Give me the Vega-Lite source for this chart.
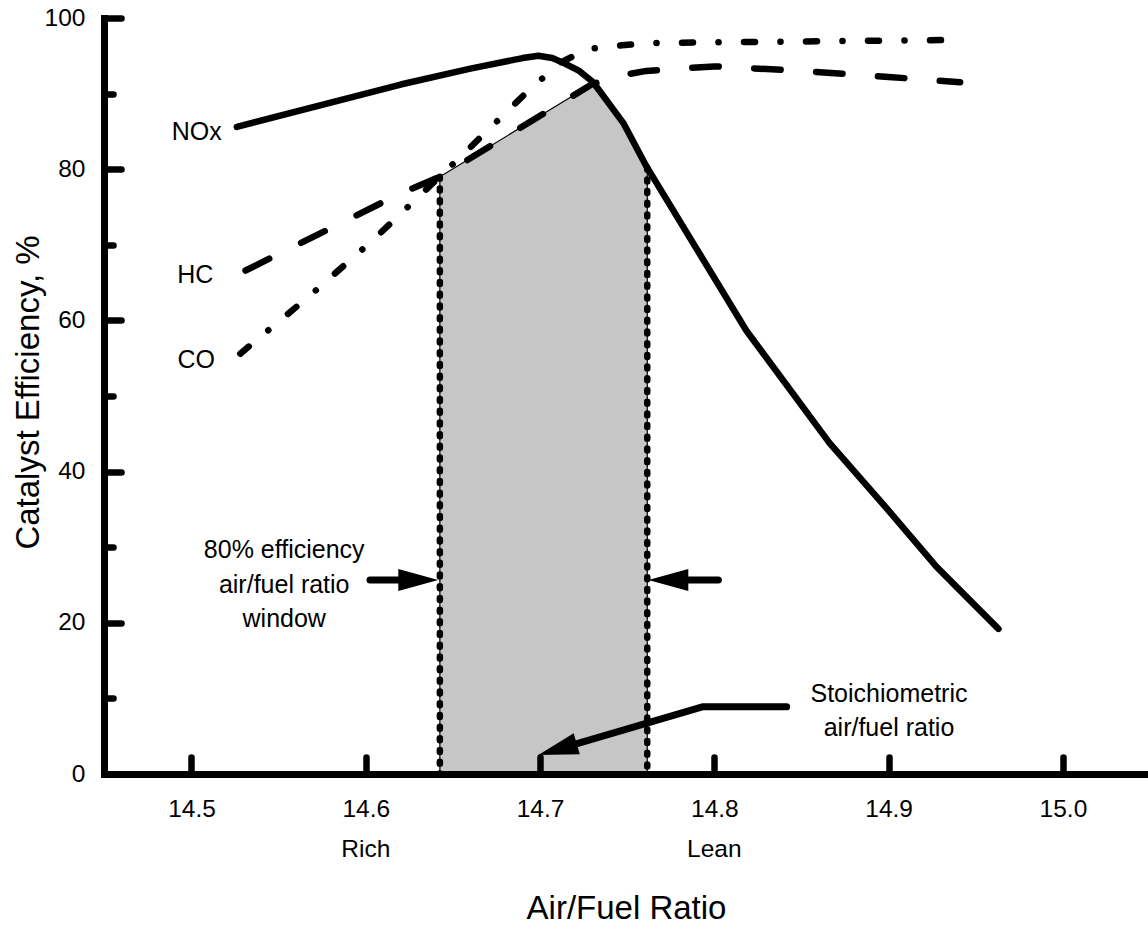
{
  "$schema": "https://vega.github.io/schema/vega-lite/v6.json",
  "width": 1044,
  "height": 756,
  "autosize": {"type": "none"},
  "padding": {"left": 104, "top": 18, "right": 0, "bottom": 154},
  "background": "white",
  "config": {"view": {"stroke": null}, "font": "Liberation Sans"},
  "datasets": {
    "curves": [
      {"gas": "NOx", "x": 14.526, "y": 85.6},
      {"gas": "NOx", "x": 14.62, "y": 91.2},
      {"gas": "NOx", "x": 14.66, "y": 93.3},
      {"gas": "NOx", "x": 14.69, "y": 94.7},
      {"gas": "NOx", "x": 14.699, "y": 95.0},
      {"gas": "NOx", "x": 14.707, "y": 94.7},
      {"gas": "NOx", "x": 14.714, "y": 94.0},
      {"gas": "NOx", "x": 14.7225, "y": 93.0},
      {"gas": "NOx", "x": 14.7305, "y": 91.5},
      {"gas": "NOx", "x": 14.7478, "y": 86.1},
      {"gas": "NOx", "x": 14.7612, "y": 80.3},
      {"gas": "NOx", "x": 14.8185, "y": 58.6},
      {"gas": "NOx", "x": 14.866, "y": 43.8},
      {"gas": "NOx", "x": 14.899, "y": 35.1},
      {"gas": "NOx", "x": 14.9275, "y": 27.4},
      {"gas": "NOx", "x": 14.963, "y": 19.2},
      {"gas": "HC", "x": 14.531, "y": 66.6},
      {"gas": "HC", "x": 14.62, "y": 76.8},
      {"gas": "HC", "x": 14.6425, "y": 79.0},
      {"gas": "HC", "x": 14.7295, "y": 91.2},
      {"gas": "HC", "x": 14.744, "y": 92.3},
      {"gas": "HC", "x": 14.761, "y": 93.0},
      {"gas": "HC", "x": 14.8, "y": 93.6},
      {"gas": "HC", "x": 14.85, "y": 93.0},
      {"gas": "HC", "x": 14.9, "y": 92.2},
      {"gas": "HC", "x": 14.941, "y": 91.5},
      {"gas": "CO", "x": 14.528, "y": 55.6},
      {"gas": "CO", "x": 14.568, "y": 63.3},
      {"gas": "CO", "x": 14.604, "y": 70.6},
      {"gas": "CO", "x": 14.656, "y": 82.0},
      {"gas": "CO", "x": 14.692, "y": 90.1},
      {"gas": "CO", "x": 14.711, "y": 94.0},
      {"gas": "CO", "x": 14.727, "y": 95.9},
      {"gas": "CO", "x": 14.747, "y": 96.4},
      {"gas": "CO", "x": 14.764, "y": 96.7},
      {"gas": "CO", "x": 14.85, "y": 96.9},
      {"gas": "CO", "x": 14.942, "y": 97.1}
    ],
    "window": [
      {"x": 14.6425, "y": 79.0},
      {"x": 14.7295, "y": 91.2},
      {"x": 14.7478, "y": 86.1},
      {"x": 14.7615, "y": 80.2}
    ],
    "edges": [
      {"x": 14.6425, "y": 79.0},
      {"x": 14.7615, "y": 80.2}
    ],
    "frame": [{"y": 100}],
    "shafts": [
      {"arrow": "left", "x": 14.6024, "y": 25.66},
      {"arrow": "left", "x": 14.63, "y": 25.66},
      {"arrow": "right", "x": 14.7736, "y": 25.66},
      {"arrow": "right", "x": 14.8023, "y": 25.66},
      {"arrow": "stoich", "x": 14.70998, "y": 3.25},
      {"arrow": "stoich", "x": 14.7936, "y": 8.9},
      {"arrow": "stoich", "x": 14.8415, "y": 8.9}
    ],
    "heads": [
      {"arrow": "left", "x": 14.6416, "y": 25.66},
      {"arrow": "right", "x": 14.7621, "y": 25.66},
      {"arrow": "stoich", "x": 14.699, "y": 2.51}
    ],
    "gasLabels": [
      {"x": 14.5173, "y": 83.86, "text": "NOx"},
      {"x": 14.5125, "y": 64.9, "text": "HC"},
      {"x": 14.5135, "y": 53.7, "text": "CO"}
    ],
    "notes": [
      {"x": 14.5532, "y": 28.53, "text": "80% efficiency\nair/fuel ratio\nwindow"},
      {"x": 14.9002, "y": 9.56, "text": "Stoichiometric\nair/fuel ratio"}
    ],
    "sides": [
      {"x": 14.6, "y": -10.98, "text": "Rich"},
      {"x": 14.8, "y": -10.98, "text": "Lean"}
    ]
  },
  "encoding": {
    "x": {
      "field": "x",
      "type": "quantitative",
      "scale": {"domain": [14.4498, 15.0488], "nice": false, "zero": false},
      "axis": {
        "title": "Air/Fuel Ratio",
        "values": [14.5, 14.6, 14.7, 14.8, 14.9, 15.0],
        "format": ".1f",
        "grid": false,
        "zindex": 1,
        "domain": true,
        "domainColor": "black",
        "domainWidth": 7,
        "domainCap": "square",
        "ticks": true,
        "tickSize": -17,
        "tickWidth": 6.5,
        "tickColor": "black",
        "tickCap": "round",
        "labelFont": "Liberation Sans",
        "labelFontSize": 24.5,
        "labelColor": "black",
        "labelPadding": 40,
        "labelFlush": false,
        "labelOverlap": false,
        "titleFont": "Liberation Sans",
        "titleFontSize": 33,
        "titleFontWeight": "normal",
        "titleColor": "black",
        "titleX": 522,
        "titleY": 144,
        "titleAlign": "center",
        "titleBaseline": "alphabetic"
      }
    },
    "y": {
      "field": "y",
      "type": "quantitative",
      "scale": {"domain": [0, 100], "nice": false},
      "axis": {
        "title": "Catalyst Efficiency, %",
        "values": [0, 10, 20, 30, 40, 50, 60, 70, 80, 90, 100],
        "labelExpr": "datum.value % 20 === 0 ? datum.label : ''",
        "grid": false,
        "zindex": 1,
        "domain": true,
        "domainColor": "black",
        "domainWidth": 7,
        "domainCap": "square",
        "ticks": true,
        "tickSize": {"condition": {"test": "datum.value % 20 === 0", "value": -17}, "value": -9},
        "tickWidth": 6.5,
        "tickColor": "black",
        "tickCap": "round",
        "labelFont": "Liberation Sans",
        "labelFontSize": 24.5,
        "labelColor": "black",
        "labelPadding": 36,
        "labelFlush": false,
        "labelOverlap": false,
        "titleFont": "Liberation Sans",
        "titleFontSize": 33,
        "titleFontWeight": "normal",
        "titleColor": "black",
        "titleAngle": -90,
        "titleX": -66,
        "titleY": 374,
        "titleAlign": "center",
        "titleBaseline": "alphabetic"
      }
    }
  },
  "layer": [
    {
      "data": {"name": "window"},
      "mark": {"type": "area", "color": "#c6c6c6", "opacity": 1},
      "encoding": {"y2": {"datum": 0}}
    },
    {
      "data": {"name": "window"},
      "mark": {"type": "line", "color": "black", "strokeWidth": 1.2}
    },
    {
      "data": {"name": "edges"},
      "mark": {"type": "rule", "color": "black", "strokeWidth": 1.2},
      "encoding": {"y2": {"datum": 0}}
    },
    {
      "data": {"name": "edges"},
      "mark": {"type": "rule", "color": "black", "strokeWidth": 6.5, "strokeCap": "round", "strokeDash": [2, 9.7]},
      "encoding": {"y2": {"datum": 0}}
    },
    {
      "data": {"name": "frame"},
      "mark": {"type": "rule", "color": "black", "strokeWidth": 7, "strokeCap": "square"},
      "encoding": {"x": {"datum": 14.4498}, "x2": {"datum": 15.0488}}
    },
    {
      "data": {"name": "curves"},
      "transform": [{"filter": "datum.gas === 'CO'"}],
      "mark": {"type": "line", "color": "black", "strokeWidth": 6.5, "strokeCap": "round", "strokeJoin": "round", "strokeDash": [11, 25.45, 0.1, 25.45]}
    },
    {
      "data": {"name": "curves"},
      "transform": [{"filter": "datum.gas === 'HC'"}],
      "mark": {"type": "line", "color": "black", "strokeWidth": 6.5, "strokeCap": "round", "strokeJoin": "round", "strokeDash": [26.5, 35.5]}
    },
    {
      "data": {"name": "curves"},
      "transform": [{"filter": "datum.gas === 'NOx'"}],
      "mark": {"type": "line", "color": "black", "strokeWidth": 6.5, "strokeCap": "round", "strokeJoin": "round"}
    },
    {
      "data": {"name": "shafts"},
      "mark": {"type": "line", "color": "black", "strokeWidth": 7, "strokeCap": "round", "strokeJoin": "round"},
      "encoding": {"detail": {"field": "arrow"}}
    },
    {
      "data": {"name": "heads"},
      "transform": [{"filter": "datum.arrow === 'left'"}],
      "mark": {"type": "point", "shape": "M0,0L-2,-0.55L-2,0.55Z", "size": 1600, "filled": true, "color": "black", "opacity": 1, "strokeWidth": 0, "angle": 0}
    },
    {
      "data": {"name": "heads"},
      "transform": [{"filter": "datum.arrow === 'right'"}],
      "mark": {"type": "point", "shape": "M0,0L-2,-0.55L-2,0.55Z", "size": 1600, "filled": true, "color": "black", "opacity": 1, "strokeWidth": 0, "angle": 180}
    },
    {
      "data": {"name": "heads"},
      "transform": [{"filter": "datum.arrow === 'stoich'"}],
      "mark": {"type": "point", "shape": "M0,0L-2,-0.55L-2,0.55Z", "size": 1600, "filled": true, "color": "black", "opacity": 1, "strokeWidth": 0, "angle": 163.7}
    },
    {
      "data": {"name": "gasLabels"},
      "mark": {"type": "text", "align": "right", "baseline": "alphabetic", "font": "Liberation Sans", "fontSize": 25, "color": "black"},
      "encoding": {"text": {"field": "text"}}
    },
    {
      "data": {"name": "notes"},
      "mark": {"type": "text", "align": "center", "baseline": "alphabetic", "font": "Liberation Sans", "fontSize": 25, "color": "black", "lineBreak": "\n", "lineHeight": 34.5},
      "encoding": {"text": {"field": "text"}}
    },
    {
      "data": {"name": "sides"},
      "mark": {"type": "text", "align": "center", "baseline": "alphabetic", "font": "Liberation Sans", "fontSize": 24.5, "color": "black"},
      "encoding": {"text": {"field": "text"}}
    }
  ]
}
